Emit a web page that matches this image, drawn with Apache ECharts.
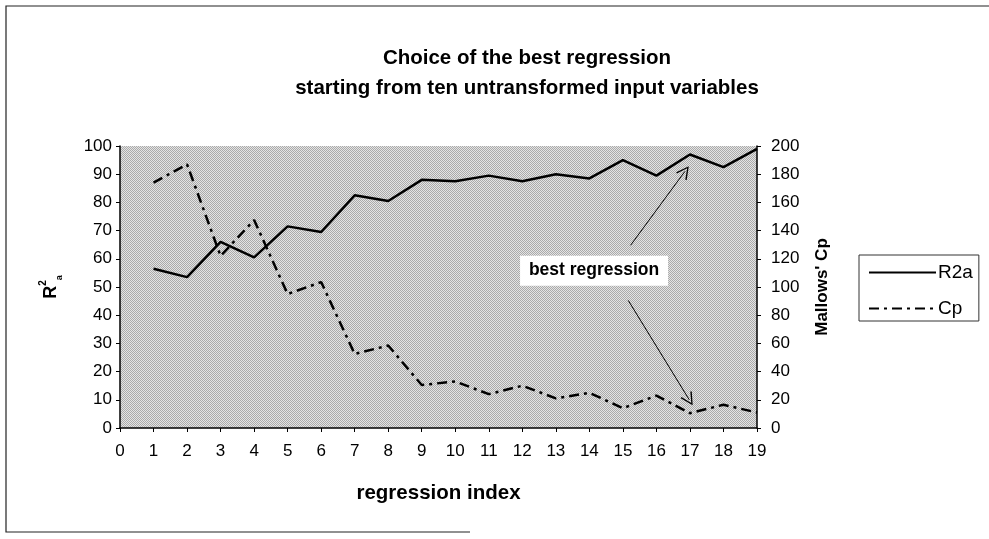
<!DOCTYPE html>
<html>
<head>
<meta charset="utf-8">
<title>Choice of the best regression</title>
<script src="https://cdn.jsdelivr.net/npm/echarts@6/dist/echarts.min.js"></script>
<style>
  html, body { margin: 0; padding: 0; background: #ffffff; }
  #chart { width: 989px; height: 539px; }
</style>
</head>
<body>
<div id="chart"></div>
<script>
// Regression index on the x axis (0 .. 19)
const regressionIndex = [1, 2, 3, 4, 5, 6, 7, 8, 9, 10, 11, 12, 13, 14, 15, 16, 17, 18, 19];
// Adjusted R-squared (left axis, %)
const r2aValues = [56.5, 53.5, 66, 60.5, 71.5, 69.5, 82.5, 80.5, 88, 87.5, 89.5, 87.5, 90, 88.5, 95, 89.5, 97, 92.5, 99];
// Mallows' Cp (right axis)
const cpValues = [174, 187, 122, 147.5, 95, 103.5, 52.5, 58.5, 30.5, 33, 24, 30, 21, 25, 14, 23, 10.5, 16.5, 11];

// Axis ranges / tick steps
const xRange = { min: 0, max: 19, step: 1 };
const leftRange = { min: 0, max: 100, step: 10 };
const rightRange = { min: 0, max: 200, step: 20 };

// "best regression" note and the two arrows pointing at regression 17
const noteText = 'best regression';
const noteAnchor = [14.14, 55.8];                // left-axis units
const arrowToR2a = [[15.23, 64.8], [16.85, 91]];  // left-axis units
const arrowToCp = [[15.16, 90.5], [16.98, 20]];   // right-axis units

const FONT = "'Liberation Sans', Arial, Helvetica, sans-serif";

// Fine halftone fill for the plot area
function halftone() {
  const c = document.createElement('canvas');
  c.width = 2; c.height = 2;
  const g = c.getContext('2d');
  g.fillStyle = '#e4e4e4'; g.fillRect(0, 0, 2, 2);
  g.fillStyle = '#aaaaaa'; g.fillRect(0, 0, 1, 1); g.fillRect(1, 1, 1, 1);
  return c;
}

// Open "V" arrow head, tip at the top
const arrowHead = 'path://M0,0 L5,11 L4,11.6 L0,2.4 L-4,11.6 L-5,11 Z';

const zip = (xs, ys) => xs.map((x, i) => [x, ys[i]]);

function arrowLine(pair) {
  return [
    { coord: pair[0], symbol: 'none' },
    { coord: pair[1], symbol: arrowHead, symbolSize: 13 }
  ];
}

const chart = echarts.init(document.getElementById('chart'), null, { renderer: 'canvas' });

const tickLabel = { color: '#000', fontFamily: FONT, fontSize: 17 };

chart.setOption({
  animation: false,
  backgroundColor: '#ffffff',
  title: {
    text: 'Choice of the best regression\nstarting from ten untransformed input variables',
    left: 522,
    top: 38,
    textAlign: 'center',
    textStyle: { color: '#000', fontFamily: FONT, fontWeight: 'bold', fontSize: 20.5, lineHeight: 30 }
  },
  legend: {
    data: ['R2a', 'Cp'],
    orient: 'vertical',
    left: 859,
    top: 255,
    padding: [8, 6, 3, 9],
    itemWidth: 67,
    itemHeight: 14,
    itemGap: 17,
    itemStyle: { opacity: 0 },
    borderColor: '#333',
    borderWidth: 1,
    backgroundColor: '#fff',
    textStyle: { color: '#000', fontFamily: FONT, fontSize: 19, padding: [0, 0, 0, -3] }
  },
  grid: {
    left: 120,
    right: 232,
    top: 146,
    bottom: 111,
    show: true,
    borderWidth: 0,
    backgroundColor: { image: halftone(), repeat: 'repeat' }
  },
  xAxis: {
    type: 'value',
    min: xRange.min,
    max: xRange.max,
    interval: xRange.step,
    name: 'regression index',
    nameLocation: 'middle',
    nameGap: 55,
    nameTextStyle: { color: '#000', fontFamily: FONT, fontWeight: 'bold', fontSize: 20.5 },
    axisLine: { show: true, onZero: false, lineStyle: { color: '#000', width: 1.5 } },
    axisTick: { show: true, inside: false, length: 4, lineStyle: { color: '#000', width: 1 } },
    axisLabel: Object.assign({ margin: 15 }, tickLabel),
    splitLine: { show: false }
  },
  yAxis: [
    {
      type: 'value',
      position: 'left',
      min: leftRange.min,
      max: leftRange.max,
      interval: leftRange.step,
      name: '{r|R}{sup|2}{sub|a}',
      nameLocation: 'middle',
      nameRotate: 90,
      nameGap: 56,
      nameTextStyle: {
        color: '#000',
        rich: {
          r: { fontFamily: FONT, fontWeight: 'bold', fontSize: 18, color: '#000', lineHeight: 26, verticalAlign: 'middle' },
          sup: { fontFamily: FONT, fontWeight: 'bold', fontSize: 10, color: '#000', lineHeight: 26, verticalAlign: 'top' },
          sub: { fontFamily: FONT, fontWeight: 'bold', fontSize: 9, color: '#000', lineHeight: 26, verticalAlign: 'bottom' }
        }
      },
      axisLine: { show: true, lineStyle: { color: '#000', width: 1.5 } },
      axisTick: { show: true, inside: false, length: 4, lineStyle: { color: '#000', width: 1 } },
      axisLabel: Object.assign({ margin: 8 }, tickLabel),
      splitLine: { show: false }
    },
    {
      type: 'value',
      position: 'right',
      min: rightRange.min,
      max: rightRange.max,
      interval: rightRange.step,
      name: "Mallows' Cp",
      nameLocation: 'middle',
      nameRotate: 90,
      nameGap: 57,
      nameTextStyle: { color: '#000', fontFamily: FONT, fontWeight: 'bold', fontSize: 17 },
      axisLine: { show: true, lineStyle: { color: '#000', width: 1.5 } },
      axisTick: { show: true, inside: false, length: 4, lineStyle: { color: '#000', width: 1 } },
      axisLabel: Object.assign({ margin: 14 }, tickLabel),
      splitLine: { show: false }
    }
  ],
  series: [
    {
      name: 'R2a',
      type: 'line',
      yAxisIndex: 0,
      data: zip(regressionIndex, r2aValues),
      symbol: 'none',
      lineStyle: { color: '#000', width: 2.5 },
      itemStyle: { color: '#000' },
      markLine: {
        silent: true,
        label: { show: false },
        lineStyle: { color: '#000', width: 1, type: 'solid' },
        data: [arrowLine(arrowToR2a)]
      },
      markPoint: {
        silent: true,
        data: [{
          coord: noteAnchor,
          symbol: 'rect',
          symbolSize: [148, 30],
          itemStyle: { color: '#ffffff' },
          label: {
            show: true,
            position: 'inside',
            formatter: noteText,
            color: '#000',
            fontFamily: FONT,
            fontWeight: 'bold',
            fontSize: 17.5
          }
        }]
      }
    },
    {
      name: 'Cp',
      type: 'line',
      yAxisIndex: 1,
      data: zip(regressionIndex, cpValues),
      symbol: 'none',
      lineStyle: { color: '#000', width: 2.5, type: [10, 5, 3, 5] },
      itemStyle: { color: '#000' },
      markLine: {
        silent: true,
        label: { show: false },
        lineStyle: { color: '#000', width: 1, type: 'solid' },
        data: [arrowLine(arrowToCp)]
      }
    }
  ],
  graphic: [
    {
      type: 'polyline',
      silent: true,
      shape: { points: [[470, 532], [6, 532], [6, 6], [989, 6]] },
      style: { stroke: '#222', lineWidth: 1.2, fill: null }
    }
  ]
});
</script>
</body>
</html>
